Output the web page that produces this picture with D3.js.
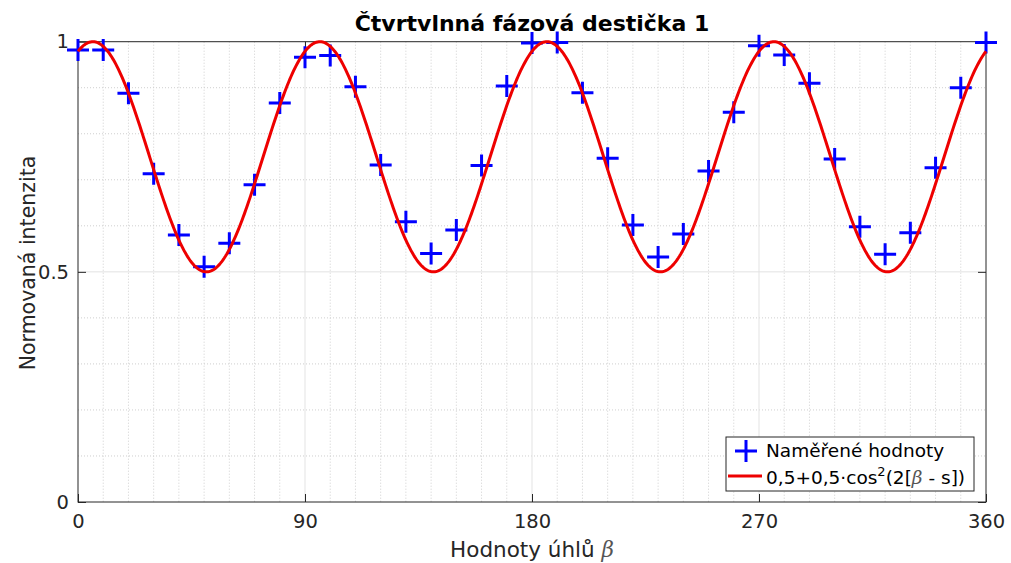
<!DOCTYPE html>
<html>
<head>
<meta charset="utf-8">
<script src="https://cdn.jsdelivr.net/npm/d3@7"></script>
<style>
  html, body { margin: 0; padding: 0; background: #fff; }
  svg { display: block; font-family: "DejaVu Sans", sans-serif; }
</style>
</head>
<body>
<svg id="chart" width="1011" height="563"></svg>
<script>
// measured points, every 10 degrees
const angles = [0, 10, 20, 30, 40, 50, 60, 70, 80, 90, 100, 110, 120, 130, 140, 150, 160, 170, 180,
  190, 200, 210, 220, 230, 240, 250, 260, 270, 280, 290, 300, 310, 320, 330, 340, 350, 360];
const intensity = [0.982, 0.982, 0.888, 0.713, 0.580, 0.511, 0.562, 0.689, 0.867, 0.966, 0.970,
  0.902, 0.732, 0.609, 0.540, 0.591, 0.731, 0.904, 0.997, 0.998, 0.889, 0.747, 0.602, 0.532,
  0.582, 0.719, 0.847, 0.991, 0.971, 0.910, 0.745, 0.598, 0.538, 0.585, 0.726, 0.900, 0.998];
// fitted shift s (degrees) of 0,5+0,5·cos²(2[β - s])
const shiftS = 5.9;

const xTicks = [0, 90, 180, 270, 360];
const yTicks = [0, 0.5, 1];
const yTickLabels = ["0", "0.5", "1"];

const W = 1011, H = 563;
const L = 78, R = 986, T = 41.7, B = 502;

const svg = d3.select("#chart");
const x = d3.scaleLinear().domain([0, 360]).range([L, R]);
const y = d3.scaleLinear().domain([0, 1]).range([B, T]);

const axisCol = "#262626";

// grid
const grid = svg.append("g");
grid.selectAll("line.mx").data(d3.range(10, 360, 10).filter(v => v % 90 !== 0)).enter()
  .append("line")
  .attr("x1", d => x(d)).attr("x2", d => x(d)).attr("y1", T).attr("y2", B)
  .attr("stroke", "#cfcfcf").attr("stroke-width", 1).attr("stroke-dasharray", "1,2");
grid.selectAll("line.my").data([0.1, 0.2, 0.3, 0.4, 0.6, 0.7, 0.8, 0.9]).enter()
  .append("line")
  .attr("x1", L).attr("x2", R).attr("y1", d => y(d)).attr("y2", d => y(d))
  .attr("stroke", "#cfcfcf").attr("stroke-width", 1).attr("stroke-dasharray", "1,2");
grid.selectAll("line.Mx").data(xTicks.slice(1, -1)).enter()
  .append("line")
  .attr("x1", d => x(d)).attr("x2", d => x(d)).attr("y1", T).attr("y2", B)
  .attr("stroke", "#e3e3e3").attr("stroke-width", 1);
grid.selectAll("line.My").data([0.5]).enter()
  .append("line")
  .attr("x1", L).attr("x2", R).attr("y1", d => y(d)).attr("y2", d => y(d))
  .attr("stroke", "#e3e3e3").attr("stroke-width", 1);

// box + ticks
svg.append("rect").attr("x", L).attr("y", T).attr("width", R - L).attr("height", B - T)
  .attr("fill", "none").attr("stroke", axisCol).attr("stroke-width", 1);

const xAxisB = d3.axisBottom(x).tickValues(xTicks).tickSizeInner(-8).tickSizeOuter(0).tickPadding(12);
const gx = svg.append("g").attr("transform", `translate(0,${B})`).call(xAxisB);
gx.select(".domain").remove();
gx.selectAll(".tick line").attr("stroke", axisCol);
gx.selectAll(".tick text").attr("fill", axisCol).style("font-size", "19.5px")
  .style("font-family", "DejaVu Sans, sans-serif");

const xAxisT = d3.axisTop(x).tickValues(xTicks).tickSizeInner(-8).tickSizeOuter(0).tickFormat("");
const gxt = svg.append("g").attr("transform", `translate(0,${T})`).call(xAxisT);
gxt.select(".domain").remove();
gxt.selectAll(".tick line").attr("stroke", axisCol);

const yAxisL = d3.axisLeft(y).tickValues(yTicks).tickSizeInner(-8).tickSizeOuter(0).tickPadding(9)
  .tickFormat((d, i) => yTickLabels[i]);
const gy = svg.append("g").attr("transform", `translate(${L},0)`).call(yAxisL);
gy.select(".domain").remove();
gy.selectAll(".tick line").attr("stroke", axisCol);
gy.selectAll(".tick text").attr("fill", axisCol).style("font-size", "19.5px")
  .style("font-family", "DejaVu Sans, sans-serif");

const yAxisR = d3.axisRight(y).tickValues(yTicks).tickSizeInner(-8).tickSizeOuter(0).tickFormat("");
const gyr = svg.append("g").attr("transform", `translate(${R},0)`).call(yAxisR);
gyr.select(".domain").remove();
gyr.selectAll(".tick line").attr("stroke", axisCol);

// measured points (+ markers)
const ms = 11;
const pts = svg.append("g");
pts.selectAll("path").data(angles).enter().append("path")
  .attr("d", (d, i) => {
    const cx = x(d), cy = y(intensity[i]);
    return `M${cx - ms},${cy}H${cx + ms}M${cx},${cy - ms}V${cy + ms}`;
  })
  .attr("stroke", "#0000ff").attr("stroke-width", 3).attr("fill", "none");

// fitted curve
const rad = Math.PI / 180;
const fitX = d3.range(0, 360.01, 0.5);
const line = d3.line()
  .x(d => x(d))
  .y(d => y(0.5 + 0.5 * Math.pow(Math.cos(2 * (d - shiftS) * rad), 2)));
svg.append("path").datum(fitX).attr("d", line)
  .attr("fill", "none").attr("stroke", "#ee0000").attr("stroke-width", 3);

// title
svg.append("text").attr("x", (L + R) / 2).attr("y", 31).attr("text-anchor", "middle")
  .style("font-weight", "bold").style("font-size", "22px").attr("fill", "#000")
  .text("Čtvrtvlnná fázová destička 1");

// x label
const xl = svg.append("text").attr("x", (L + R) / 2).attr("y", 557).attr("text-anchor", "middle")
  .style("font-size", "21.5px").attr("fill", axisCol);
xl.append("tspan").text("Hodnoty úhlů ");
xl.append("tspan").style("font-style", "italic").style("font-family", "DejaVu Serif, serif")
  .attr("fill", "#555").text("β");

// y label
svg.append("text").attr("transform", `translate(35,263) rotate(-90)`)
  .attr("text-anchor", "middle").style("font-size", "20.5px").attr("fill", axisCol)
  .text("Normovaná intenzita");

// legend
const lg = svg.append("g");
lg.append("rect").attr("x", 726).attr("y", 437).attr("width", 248).attr("height", 54)
  .attr("fill", "#fff").attr("stroke", axisCol).attr("stroke-width", 1);
lg.append("path").attr("d", `M${746 - ms},451H${746 + ms}M746,${451 - ms}V${451 + ms}`)
  .attr("stroke", "#0000ff").attr("stroke-width", 3);
lg.append("line").attr("x1", 728).attr("x2", 762).attr("y1", 476).attr("y2", 476)
  .attr("stroke", "#ee0000").attr("stroke-width", 3);
lg.append("text").attr("x", 766).attr("y", 457).style("font-size", "18.5px").attr("fill", "#000")
  .text("Naměřené hodnoty");
const lt = lg.append("text").attr("x", 766).attr("y", 484).style("font-size", "18.5px").attr("fill", "#000");
lt.append("tspan").text("0,5+0,5·cos");
lt.append("tspan").attr("dy", -8).style("font-size", "13px").text("2");
lt.append("tspan").attr("dy", 8).text("(2[");
lt.append("tspan").style("font-style", "italic").style("font-family", "DejaVu Serif, serif")
  .attr("fill", "#555").text("β");
lt.append("tspan").text(" - s])");
</script>
</body>
</html>
